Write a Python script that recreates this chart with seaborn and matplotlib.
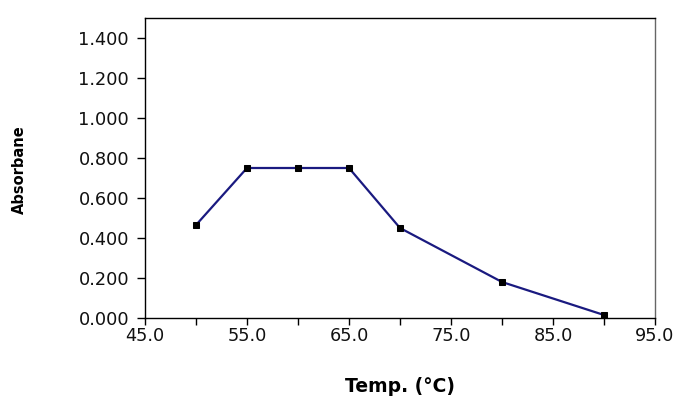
import matplotlib
matplotlib.use("Agg")
import matplotlib.pyplot as plt
import seaborn as sns
import pandas as pd
from matplotlib.ticker import FixedLocator

temps = [50, 55, 60, 65, 70, 80, 90]
absorbance = [0.465, 0.75, 0.75, 0.75, 0.45, 0.18, 0.015]
x_ticks = [45, 55, 65, 75, 85, 95]
x_ticklabels = ["45.0", "55.0", "65.0", "75.0", "85.0", "95.0"]
x_minor = [50, 60, 70, 80, 90]
y_ticks = [0.0, 0.2, 0.4, 0.6, 0.8, 1.0, 1.2, 1.4]

sns.set_style("white")
plt.rcParams['font.family'] = ['DejaVu Sans']
plt.rcParams['text.color'] = 'black'
plt.rcParams['xtick.color'] = 'black'
plt.rcParams['ytick.color'] = 'black'

df = pd.DataFrame({"Temp": temps, "Abs": absorbance})

fig = plt.figure(figsize=(6.85, 4.04), dpi=100)
ax = fig.add_axes([145/685, 1-318/404, (655-145)/685, (318-18)/404])
sns.lineplot(data=df, x="Temp", y="Abs", ax=ax, color="#1a1a80", linewidth=1.6,
             marker="s", markersize=5, markerfacecolor="black", markeredgecolor="black")

ax.set_xlim(45, 95)
ax.set_ylim(0, 1.5)
ax.xaxis.set_major_locator(FixedLocator(x_ticks))
ax.set_xticklabels(x_ticklabels)
ax.xaxis.set_minor_locator(FixedLocator(x_minor))
ax.set_yticks(y_ticks)
ax.set_yticklabels([f"{v:.3f}" for v in y_ticks])
ax.tick_params(axis="y", which="major", direction="out", length=6, width=1,
               labelsize=12.8, left=True, pad=5.5, labelcolor="#111111")
ax.tick_params(axis="x", which="major", direction="out", length=5, width=1,
               labelsize=12.8, bottom=True, pad=1.5, labelcolor="#111111")
ax.tick_params(axis="x", which="minor", direction="out", length=5, width=1,
               bottom=True)
for s in ax.spines.values():
    s.set_visible(True)
    s.set_color("black")
    s.set_linewidth(1)
ax.spines["right"].set_color("#666666")
ax.grid(False)
ax.set_xlabel("")
ax.set_ylabel("")

fig.text(400/685, 1-386/404, "Temp. (°C)", ha="center", va="center",
         fontsize=13.5, fontweight="bold")
fig.text(19/685, 1-170/404, "Absorbane", ha="center", va="center",
         rotation=90, fontsize=10.5, fontweight="bold")

fig.savefig("out.png", dpi=100)
